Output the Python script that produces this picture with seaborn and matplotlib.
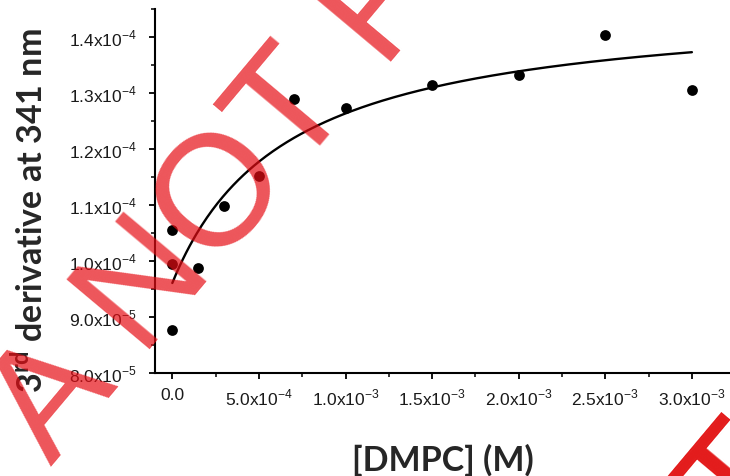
import numpy as np
import pandas as pd
import matplotlib
matplotlib.use("Agg")
import matplotlib.pyplot as plt
from matplotlib.ticker import FixedLocator
import seaborn as sns

# Measured 3rd-derivative signal at 341 nm versus DMPC concentration
dmpc_conc = [0.0, 0.0, 0.0, 1.5e-4, 3.0e-4, 5.0e-4, 7.0e-4, 1.0e-3, 1.5e-3, 2.0e-3, 2.5e-3, 3.0e-3]
deriv_341 = [1.055e-4, 0.995e-4, 0.876e-4, 0.988e-4, 1.098e-4, 1.152e-4, 1.289e-4,
             1.274e-4, 1.314e-4, 1.332e-4, 1.403e-4, 1.306e-4]

# Hyperbolic binding fit: y = y0 + Bmax * x / (Kd + x)
fit_y0 = 0.9607e-4
fit_bmax = 5.03e-5
fit_kd = 6.61e-4

x_ticks = [0.0, 5.0e-4, 1.0e-3, 1.5e-3, 2.0e-3, 2.5e-3, 3.0e-3]
x_tick_labels = ["0.0", r"5.0x10$^{\mathregular{-4}}$", r"1.0x10$^{\mathregular{-3}}$",
                 r"1.5x10$^{\mathregular{-3}}$", r"2.0x10$^{\mathregular{-3}}$",
                 r"2.5x10$^{\mathregular{-3}}$", r"3.0x10$^{\mathregular{-3}}$"]
y_ticks = [8.0e-5, 9.0e-5, 1.0e-4, 1.1e-4, 1.2e-4, 1.3e-4, 1.4e-4]
y_tick_labels = [r"8.0x10$^{\mathregular{-5}}$", r"9.0x10$^{\mathregular{-5}}$",
                 r"1.0x10$^{\mathregular{-4}}$", r"1.1x10$^{\mathregular{-4}}$",
                 r"1.2x10$^{\mathregular{-4}}$", r"1.3x10$^{\mathregular{-4}}$",
                 r"1.4x10$^{\mathregular{-4}}$"]

sns.set_style("ticks")
plt.rcParams["font.family"] = ["Liberation Sans", "DejaVu Sans"]

points = pd.DataFrame({"conc": dmpc_conc, "signal": deriv_341})
fit_x = np.linspace(0.0, max(dmpc_conc), 300)
fit = pd.DataFrame({"conc": fit_x, "signal": fit_y0 + fit_bmax * fit_x / (fit_kd + fit_x)})

W, H = 730, 477
fig = plt.figure(figsize=(W / 100, H / 100), dpi=100)
ax = fig.add_axes([155 / W, 1 - 374 / H, 575 / W, 364 / H])

sns.lineplot(data=fit, x="conc", y="signal", ax=ax, color="black", linewidth=1.7, zorder=2)
sns.scatterplot(data=points, x="conc", y="signal", ax=ax, color="black", s=60,
                edgecolor="black", linewidth=0, zorder=3)

ax.set_xlim(-1.0e-4, 3.22e-3)
ax.set_ylim(8.0e-5, 1.45e-4)

ax.xaxis.set_major_locator(FixedLocator(x_ticks))
ax.set_xticklabels(x_tick_labels)
ax.xaxis.set_minor_locator(FixedLocator([2.5e-4, 7.5e-4, 1.25e-3, 1.75e-3, 2.25e-3, 2.75e-3, 3.25e-3]))
ax.yaxis.set_major_locator(FixedLocator(y_ticks))
ax.set_yticklabels(y_tick_labels)
ax.yaxis.set_minor_locator(FixedLocator([8.5e-5, 9.5e-5, 1.05e-4, 1.15e-4, 1.25e-4, 1.35e-4, 1.45e-4]))

for side in ("top", "right"):
    ax.spines[side].set_visible(False)
for side in ("left", "bottom"):
    ax.spines[side].set_linewidth(1.5)
    ax.spines[side].set_color("black")

ax.tick_params(which="major", direction="out", length=4, width=1.3, color="black",
               labelsize=12.5, labelcolor="#1a1a1a")
ax.tick_params(which="minor", direction="out", length=3, width=1.1, color="black")
ax.tick_params(axis="y", which="major", pad=9)
ax.tick_params(axis="x", which="major", pad=6)

label_font = dict(family=["Lato", "DejaVu Sans"], weight="bold", size=24.5)
ax.set_xlabel("[DMPC] (M)", **label_font)
ax.set_ylabel(r"3$^{\mathregular{rd}}$ derivative at 341 nm", **label_font)
ax.xaxis.set_label_coords(0.5, -0.193)
ax.yaxis.set_label_coords(-0.184, 0.448)

# Diagonal watermark overlay
fig.text(51 / W, 1 - 467 / H, "A NOT FOR", fontsize=114, family="Liberation Sans",
         color=(0.9, 0.05, 0.08), alpha=0.7, rotation=50, rotation_mode="anchor",
         ha="left", va="baseline")
fig.text(744 / W, 1 - 487 / H, "T", fontsize=114, family="Liberation Sans",
         color="#e31b1b", rotation=50, rotation_mode="anchor",
         ha="center", va="center")

fig.savefig("out.png", dpi=100)
